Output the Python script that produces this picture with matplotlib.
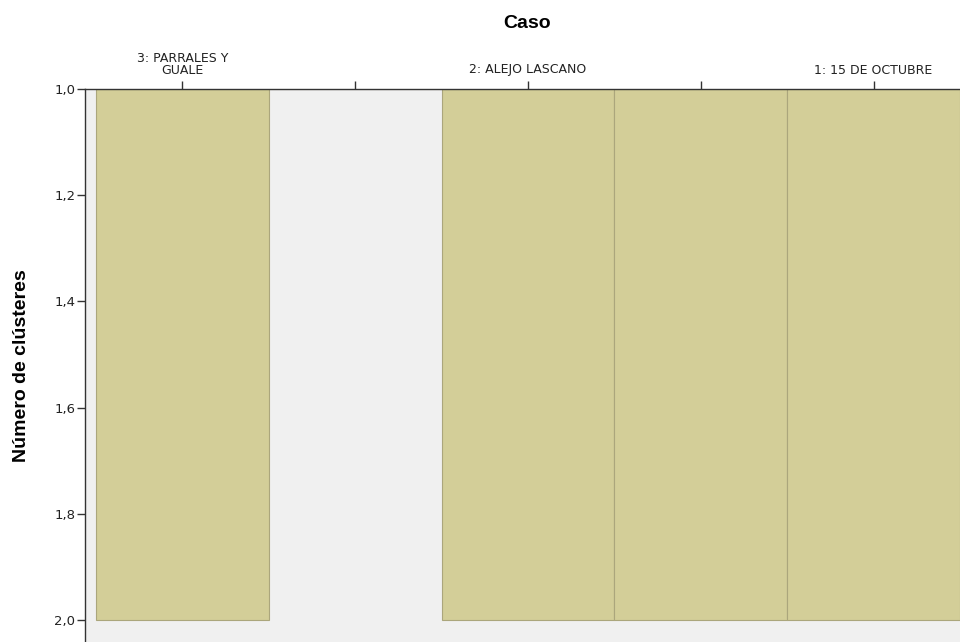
import numpy as np
import matplotlib.pyplot as plt

plt.rcParams['font.family'] = ['Liberation Sans', 'DejaVu Sans']

# === DATA ===
# icicle columns: case columns and the gaps between them
column_pos = [1, 2, 3, 4, 5]
cluster_extent = [2, 1, 2, 2, 2]     # bar reaches down to this number of clusters
tick_labels = ["3: PARRALES Y\nGUALE", "", "2: ALEJO LASCANO", "", "1: 15 DE OCTUBRE"]
y_ticks = [1.0, 1.2, 1.4, 1.6, 1.8, 2.0]
y_labels = ["1,0", "1,2", "1,4", "1,6", "1,8", "2,0"]

fig = plt.figure(figsize=(9.6, 6.42), dpi=100)
ax = fig.add_axes([85 / 960, 0.0, 1 - 85 / 960, 1 - 89 / 642])
ax.set_facecolor('#F0F0F0')

heights = np.array(cluster_extent) - 1.0
ax.bar(column_pos, heights, bottom=1.0, width=1.0, color='#D3CE98',
       edgecolor='#ABA67C', linewidth=0.8)

ax.set_xlim(0.436, 5.5)
ax.set_ylim(2.041, 1.0)

tick_font = ['DejaVu Sans']
ax.xaxis.tick_top()
ax.set_xticks(column_pos)
ax.set_xticklabels(tick_labels, fontsize=9, linespacing=0.8, family=tick_font,
                   color='#222222')
ax.tick_params(axis='x', direction='out', length=6, width=1, color='#333333', pad=3)
ax.set_yticks(y_ticks)
ax.set_yticklabels(y_labels, fontsize=9.5, family=tick_font, color='#222222')
ax.tick_params(axis='y', direction='out', length=6, width=1, color='#333333', pad=1)

for s in ['right', 'bottom']:
    ax.spines[s].set_visible(False)
for s in ['left', 'top']:
    ax.spines[s].set_color('#333333')
    ax.spines[s].set_linewidth(1.0)

ax.set_ylabel("Número de clústeres", fontsize=14, fontweight='bold')
ax.yaxis.set_label_coords((30 - 85) / 875, 0.5)
fig.text(527 / 960, 1 - 24 / 642, "Caso", fontsize=14, fontweight='bold',
         ha='center', va='center')

plt.savefig("out.png", dpi=100)
plt.close()
